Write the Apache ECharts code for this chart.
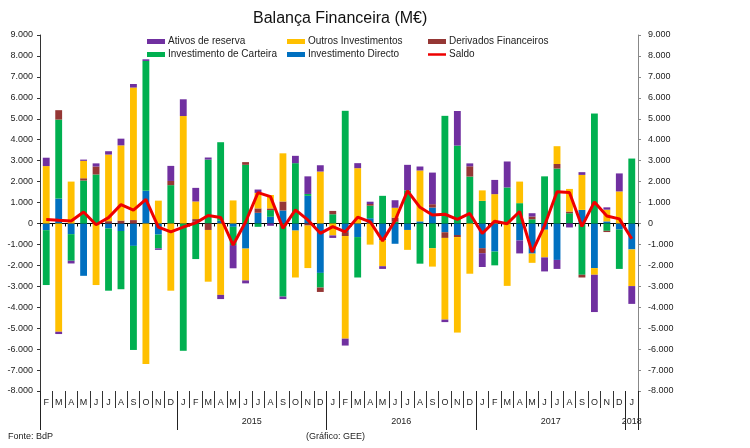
<!DOCTYPE html>
<html><head><meta charset="utf-8">
<script src="https://cdn.jsdelivr.net/npm/echarts@6/dist/echarts.min.js"></script>
<style>html,body{margin:0;padding:0;background:#fff}#c{width:750px;height:448px}</style>
</head><body><div id="c"></div>
<script>
const months = ['F','M','A','M','J','J','A','S','O','N','D',
  'J','F','M','A','M','J','J','A','S','O','N','D',
  'J','F','M','A','M','J','J','A','S','O','N','D',
  'J','F','M','A','M','J','J','A','S','O','N','D',
  'J'];
const yearLabels = ['', '2015', '2016', '2017', '2018'];
const yearMonthCounts = [11, 12, 12, 12, 1];

const directo = [-320,1190,-510,-2500,0,-240,-360,-1070,1560,-530,0,
  0,80,0,130,-160,-1200,510,320,620,-340,1320,-2360,
  0,-410,-650,250,-800,-970,-310,100,760,-420,-550,0,
  -1180,-1340,0,-810,-1440,-300,-1740,0,650,-2130,100,-290,
  -1240];
const carteira = [-2620,3770,-1270,2050,2340,-2970,-2780,-4970,6200,-660,1830,
  -6080,-1700,3050,3750,-870,2800,-160,320,-3490,2880,90,-700,
  440,5380,-1930,600,1320,80,1580,-1920,-1180,5140,3720,2240,
  1080,-660,1720,970,200,2250,2620,490,-2450,5250,-350,-1880,
  3100];
const derivados = [0,450,0,110,380,110,140,160,0,0,200,
  0,130,-310,0,0,130,210,80,430,0,-100,-210,
  160,-190,0,80,0,200,0,0,160,-270,-100,490,
  -240,0,0,0,130,0,220,80,-130,0,-60,0,
  0];
const outros = [2740,-5170,2000,830,-2940,3180,3590,6330,-6710,1090,-3210,
  5130,840,-2470,-3410,1100,-1520,740,640,2300,-2240,-2030,2480,
  -570,-4900,2640,-1010,-1240,470,-950,2430,-880,-3900,-4560,-2400,
  500,1400,-2980,1030,-440,-1320,850,1080,1670,-320,560,1530,
  -1750];
const reserva = [400,-110,-130,60,150,160,320,170,80,-70,720,
  800,650,100,-200,-1110,-140,160,-110,-120,350,840,300,
  -120,-330,240,110,-130,360,1220,190,1510,-120,1650,140,
  -660,680,1240,-620,160,-670,-430,-190,130,-1780,110,860,
  -850];
const saldo = [190,150,120,550,-60,280,900,640,1150,-170,-400,
  -170,30,380,290,-1030,70,1470,1280,-230,650,170,-470,
  -150,-400,300,80,-830,140,1560,770,400,440,200,480,
  -480,110,-10,570,-1370,-100,1510,1480,-140,1030,360,220,
  -730];

// year boundaries and label centres derived from month counts
const yearBounds = [0];
const yearCentres = [];
let acc = 0;
yearMonthCounts.forEach((n) => { yearCentres.push(acc + n / 2); acc += n; yearBounds.push(acc); });

function fmt(v) {
  const s = String(Math.abs(v)).replace(/\B(?=(\d{3})+(?!\d))/g, '.');
  return (v < 0 ? '-' : '') + s;
}

const FONT = 'Liberation Sans';
const chart = echarts.init(document.getElementById('c'));
const legendBase = {
  orient: 'vertical', top: 35, padding: 0, itemWidth: 18, itemHeight: 5, itemGap: 0,
  textStyle: { fontSize: 10, color: '#222', fontFamily: FONT, lineHeight: 13, padding: [0, 0, 0, -2] },
  selectedMode: false
};
chart.setOption({
  animation: false,
  textStyle: { fontFamily: FONT },
  title: [
    { text: 'Balança Financeira (M€)', left: 253, top: 11, padding: 0,
      textStyle: { fontSize: 16, fontWeight: 'normal', color: '#111', fontFamily: FONT } },
    { text: 'Fonte: BdP', left: 8, top: 432, padding: 0,
      textStyle: { fontSize: 9, fontWeight: 'normal', color: '#222', fontFamily: FONT } },
    { text: '(Gráfico: GEE)', left: 306, top: 432, padding: 0,
      textStyle: { fontSize: 9, fontWeight: 'normal', color: '#222', fontFamily: FONT } }
  ],
  legend: [
    Object.assign({}, legendBase, { left: 147, data: [{ name: 'Ativos de reserva', icon: 'rect' }, { name: 'Investimento de Carteira', icon: 'rect' }] }),
    Object.assign({}, legendBase, { left: 287, data: [{ name: 'Outros Investimentos', icon: 'rect' }, { name: 'Investimento Directo', icon: 'rect' }] }),
    Object.assign({}, legendBase, { left: 428, data: [{ name: 'Derivados Financeiros', icon: 'rect' }, { name: 'Saldo', icon: 'path://M0,0h36v5h-36z' }] })
  ],
  grid: { left: 40, right: 112, top: 35, bottom: 57, containLabel: false },
  xAxis: [
    { type: 'category', data: months, position: 'bottom',
      axisLine: { onZero: true, lineStyle: { color: '#000', width: 1 } },
      axisTick: { show: true, interval: 0, length: 3, lineStyle: { color: '#000' } },
      axisLabel: { show: false }, splitLine: { show: false } },
    { type: 'category', data: months, position: 'bottom',
      axisLine: { show: false, onZero: false },
      axisTick: { show: true, interval: 0, length: 17, lineStyle: { color: '#333' } },
      axisLabel: { interval: 0, fontSize: 9, color: '#222', margin: 7 }, splitLine: { show: false } },
    { type: 'value', min: 0, max: 48, position: 'bottom',
      axisLine: { show: false, onZero: false }, splitLine: { show: false },
      axisTick: { show: true, length: 39, customValues: yearBounds, lineStyle: { color: '#222' } },
      axisLabel: { customValues: yearCentres, fontSize: 9, color: '#222', margin: 26,
        formatter: (v) => { const i = yearCentres.indexOf(v); return i >= 0 ? yearLabels[i] : ''; } } }
  ],
  yAxis: [
    { type: 'value', min: -8000, max: 9000, interval: 1000, position: 'left',
      axisLine: { show: true, lineStyle: { color: '#333' } },
      axisTick: { show: true, length: 3, lineStyle: { color: '#333' } },
      splitLine: { show: false },
      axisLabel: { formatter: fmt, fontSize: 9, color: '#222', margin: 7 } },
    { type: 'value', min: -8000, max: 9000, interval: 1000, position: 'right',
      axisLine: { show: true, lineStyle: { color: '#888' } },
      axisTick: { show: true, length: 3, lineStyle: { color: '#888' } },
      splitLine: { show: false },
      axisLabel: { formatter: fmt, fontSize: 9, color: '#222', margin: 10 } }
  ],
  series: [
    { name: 'Investimento Directo', type: 'bar', stack: 't', barWidth: '55%', data: directo, itemStyle: { color: '#0070C0' } },
    { name: 'Investimento de Carteira', type: 'bar', stack: 't', data: carteira, itemStyle: { color: '#00B050' } },
    { name: 'Derivados Financeiros', type: 'bar', stack: 't', data: derivados, itemStyle: { color: '#953735' } },
    { name: 'Outros Investimentos', type: 'bar', stack: 't', data: outros, itemStyle: { color: '#FFC000' } },
    { name: 'Ativos de reserva', type: 'bar', stack: 't', data: reserva, itemStyle: { color: '#7030A0' } },
    { name: 'Saldo', type: 'line', data: saldo, symbol: 'none', z: 5,
      lineStyle: { color: '#EE0000', width: 3 }, itemStyle: { color: '#EE0000' } }
  ]
});
</script>
</body></html>
